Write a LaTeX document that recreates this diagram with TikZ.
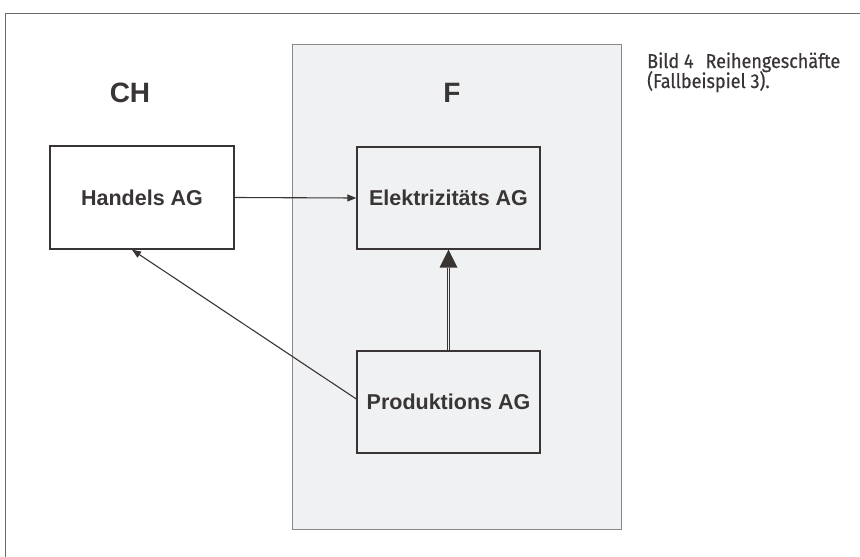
\documentclass[tikz,border=0pt]{standalone}
\usepackage{fontspec}
\setmainfont{Liberation Sans}
\newfontfamily\helv{Liberation Sans}
\newfontfamily\capfont[FakeStretch=0.9,FakeBold=0.5]{Fira Sans}
\usetikzlibrary{arrows.meta}
\definecolor{ink}{HTML}{3A3535}
\definecolor{shade}{HTML}{EFF1F3}
\definecolor{shadeline}{HTML}{8C8888}
\definecolor{frameline}{HTML}{6E6866}
\tikzset{
  company/.style={draw=ink, line width=1.4pt, fill=none, minimum width=183pt, minimum height=102pt, inner sep=0pt, font=\helv\bfseries\fontsize{21.5}{25}\selectfont, text=ink},
  country/.style={font=\helv\bfseries\fontsize{28}{32}\selectfont, text=ink, inner sep=0pt},
  captext/.style={font=\capfont\fontsize{20}{22}\selectfont, text=ink, inner sep=0pt, anchor=base west},
  thinarrow/.style={draw=ink, line width=1.1pt, -{Triangle[length=9pt,width=7pt]}},
  dblline/.style={draw=ink, double=shade, double distance=1.6pt, line width=1.1pt},
}
\begin{document}
\begin{tikzpicture}[x=1pt,y=-1pt]
\useasboundingbox (0,0) rectangle (860,557);
\fill[white] (0,0) rectangle (860,557);
% outer frame
\draw[frameline, line width=1pt] (5,557) -- (5,13) -- (860,13);
% shaded region F
\draw[fill=shade, draw=shadeline, line width=0.8pt] (292,44) rectangle (621,529);
% labels
\node[country] (ch) at (130,93) {CH};
\node[country] (f) at (452,93) {F};
% boxes
\node[company, minimum width=184pt, minimum height=103pt] (handels) at (142,197.5) {Handels AG};
\node[company] (elek) at (448.5,198) {Elektrizitäts AG};
\node[company] (prod) at (448.5,402) {Produktions AG};
% caption
\node[captext] (cap1) at (647,68) {Bild 4\hspace{0.6em}Reihengeschäfte};
\node[captext] (cap2) at (647,88) {(Fallbeispiel 3).};
% connectors
\draw[thinarrow] (handels.east) -- (elek.west);
\draw[thinarrow] ([yshift=3pt]prod.west) -- ([xshift=-10pt]handels.south);
\coordinate (tipbase) at ([yshift=-18pt]elek.south);
\draw[dblline] (prod.north) -- (tipbase);
\fill[ink] (elek.south) -- ([xshift=-9pt]tipbase) -- ([xshift=9pt]tipbase) -- cycle;
\end{tikzpicture}
\end{document}
